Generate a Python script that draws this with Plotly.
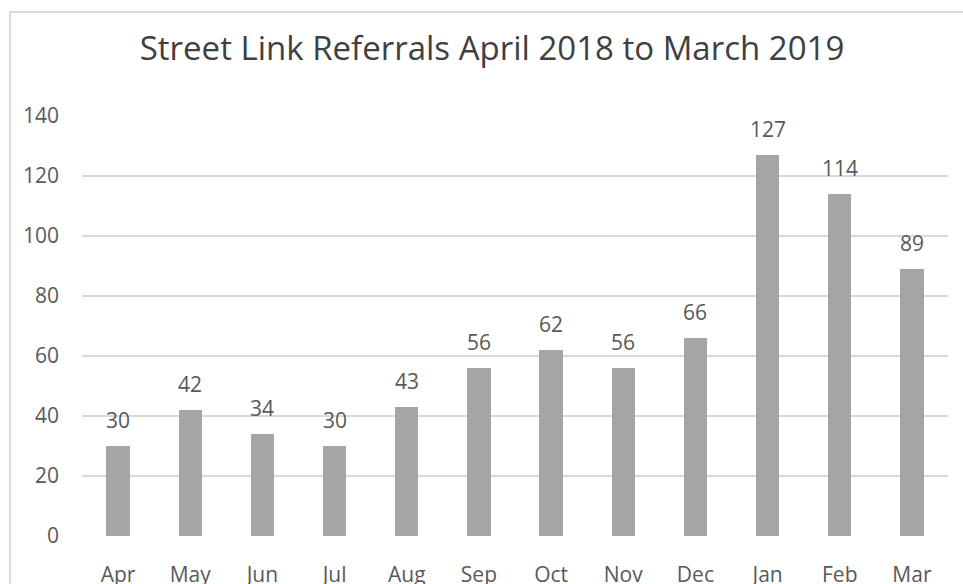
import plotly.graph_objects as go

months = ["Apr", "May", "Jun", "Jul", "Aug", "Sep", "Oct", "Nov", "Dec", "Jan", "Feb", "Mar"]
referrals = [30, 42, 34, 30, 43, 56, 62, 56, 66, 127, 114, 89]
y_ticks = [0, 20, 40, 60, 80, 100, 120, 140]
title_text = "Street Link Referrals April 2018 to March 2019"

FONT = "Open Sans, Noto Sans, sans-serif"
TXT = "#595959"

fig = go.Figure()
fig.add_trace(go.Bar(
    x=months, y=referrals,
    marker=dict(color="#A5A5A5", line=dict(width=0)),
    width=0.323,
    hoverinfo="skip",
))

for m, v in zip(months, referrals):
    fig.add_annotation(x=m, y=v, text=str(v), showarrow=False, yshift=26,
                       yanchor="middle", font=dict(family=FONT, size=21, color=TXT))

W, H = 963, 584
L, R, T, B = 82, 15, 116, 48
pw = W - L - R
ph = H - T - B

def px_x(px):
    return (px - L) / pw

def px_y(py):
    return (H - B - py) / ph

fig.add_shape(type="rect", xref="paper", yref="paper",
              x0=px_x(10), x1=px_x(1000), y0=px_y(640), y1=px_y(12),
              line=dict(color="#D9D9D9", width=2), fillcolor="rgba(0,0,0,0)", layer="below")

fig.update_layout(
    width=W, height=H,
    margin=dict(l=L, r=R, t=T, b=B, autoexpand=False),
    paper_bgcolor="white", plot_bgcolor="white",
    showlegend=False,
    title=dict(text=title_text, x=px_x(492), xanchor="center", y=1 - 48 / H, yanchor="middle",
               xref="paper", font=dict(family=FONT, size=33, color="#404040")),
    bargap=0,
)
fig.update_xaxes(
    type="category", showgrid=False, zeroline=False, showline=False, automargin=False,
    ticks="outside", ticklen=0, ticklabelstandoff=20,
    tickfont=dict(family=FONT, size=21, color=TXT),
)
fig.update_yaxes(
    range=[0, 140], tickvals=y_ticks, showgrid=True, gridcolor="#D9D9D9", gridwidth=1.5,
    zeroline=False, showline=False, ticklabelstandoff=22, automargin=False,
    tickfont=dict(family=FONT, size=21, color=TXT),
)
fig.write_html("out.html", config={"displayModeBar": False},
               post_script="document.body.style.margin='0';document.body.style.overflow='hidden';")
